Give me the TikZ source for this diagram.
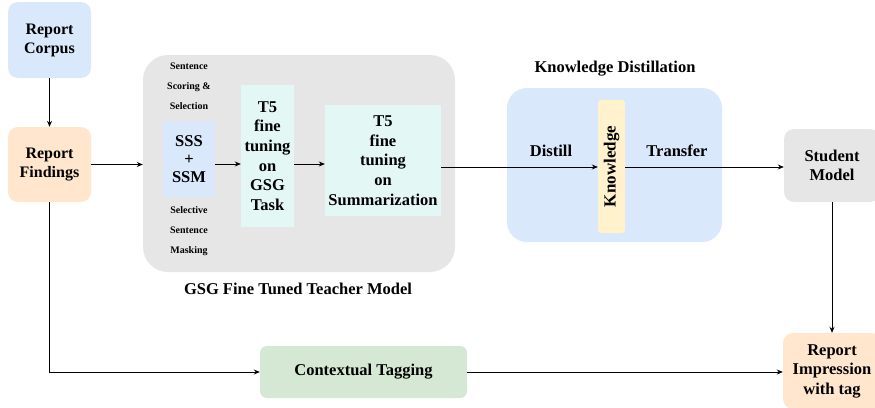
\documentclass[tikz,border=0pt]{standalone}
\usepackage{fontspec}
\setmainfont{Liberation Serif}
\usetikzlibrary{arrows.meta}
\definecolor{cblue}{HTML}{DAE8FC}
\definecolor{corange}{HTML}{FFE6CC}
\definecolor{cgray}{HTML}{E6E6E6}
\definecolor{ccyan}{HTML}{E3F7F5}
\definecolor{cyellow}{HTML}{FFF2CC}
\definecolor{cgreen}{HTML}{D5E8D4}
\begin{document}
\begin{tikzpicture}[x=1pt,y=-1pt,
  box/.style={draw=none,rounded corners=10pt,align=center,inner sep=0pt,
    font=\fontsize{16}{19}\selectfont\bfseries},
  sq/.style={draw=none,align=center,inner sep=0pt,
    font=\fontsize{16.5}{19.6}\selectfont\bfseries},
  lbl/.style={align=center,inner sep=0pt,font=\fontsize{16.5}{19}\selectfont\bfseries},
  small/.style={align=center,inner sep=0pt,font=\fontsize{10}{20}\selectfont\bfseries},
  arr/.style={draw=black,line width=0.8pt,-{Stealth[length=6pt,width=5pt]}}]
\useasboundingbox (0,0) rectangle (875,407);
% containers
\node[box,fill=cgray,rounded corners=25pt,minimum width=312pt,minimum height=217pt] (gsg) at (299,163.5) {};
\node[box,fill=cblue,rounded corners=20pt,minimum width=215pt,minimum height=154pt] (kd) at (614.5,165) {};
\node[lbl] (gsgl) at (298,289) {GSG Fine Tuned Teacher Model};
\node[lbl] (kdl) at (615,69) {Knowledge Distillation};
% left column
\node[box,fill=cblue,minimum width=83pt,minimum height=76pt] (corpus) at (49.5,40) {Report\\Corpus};
\node[box,fill=corange,minimum width=83pt,minimum height=75pt] (find) at (49.5,164.5) {Report\\Findings};
% inside GSG
\node[sq,fill=cblue,minimum width=52pt,minimum height=76pt,font=\fontsize{16.5}{18}\selectfont\bfseries] (sss) at (189,159) {SSS\\+\\SSM};
\node[small] (ssl) at (189,86) {Sentence\\Scoring \&\\Selection};
\node[small] (sml) at (189,231) {Selective\\Sentence\\Masking};
\node[sq,fill=ccyan,minimum width=53pt,minimum height=142pt] (t5a) at (267.5,156) {T5\\fine\\tuning\\on\\GSG\\Task};
\node[sq,fill=ccyan,minimum width=116pt,minimum height=111pt] (t5b) at (383,160.5) {T5\\fine\\tuning\\on\\Summarization};
% KD inside
\node[box,fill=cyellow,rounded corners=3pt,minimum width=27pt,minimum height=133pt] (know) at (611.5,166.5) {};
\node[rotate=90,inner sep=0pt,font=\fontsize{17}{19}\selectfont\bfseries] (knowt) at (know.center) {Knowledge};
\node[lbl] (dist) at (551,151) {Distill};
\node[lbl] (trans) at (677,151) {Transfer};
% right column
\node[box,fill=cgray,minimum width=96pt,minimum height=73pt,font=\fontsize{16.5}{19.5}\selectfont\bfseries] (stud) at (832,165.5) {Student\\Model};
\node[box,fill=corange,minimum width=98pt,minimum height=76pt,font=\fontsize{16.5}{19.5}\selectfont\bfseries] (imp) at (832,371) {Report\\Impression\\with tag};
\node[box,fill=cgreen,rounded corners=7pt,minimum width=207pt,minimum height=52pt,font=\fontsize{16.5}{19}\selectfont\bfseries] (ctx) at (363.5,372) {Contextual Tagging};
% connectors
\draw[arr] (corpus) -- (find);
\draw[arr] (find.east) -- (gsg.west |- find.east);
\draw[arr] (sss.east |- 0,164) -- (t5a.west |- 0,164);
\draw[arr] (t5a.east |- 0,164) -- (t5b.west |- 0,164);
\draw[arr] (t5b.east |- 0,167) -- (know.west |- 0,167);
\draw[arr] (know.east |- 0,167) -- (stud.west |- 0,167);
\draw[arr] (stud.south) -- (imp.north);
\draw[arr] (find.south) |- (ctx.west);
\draw[arr] (ctx.east) -- (imp.west |- ctx.east);
\end{tikzpicture}
\end{document}
